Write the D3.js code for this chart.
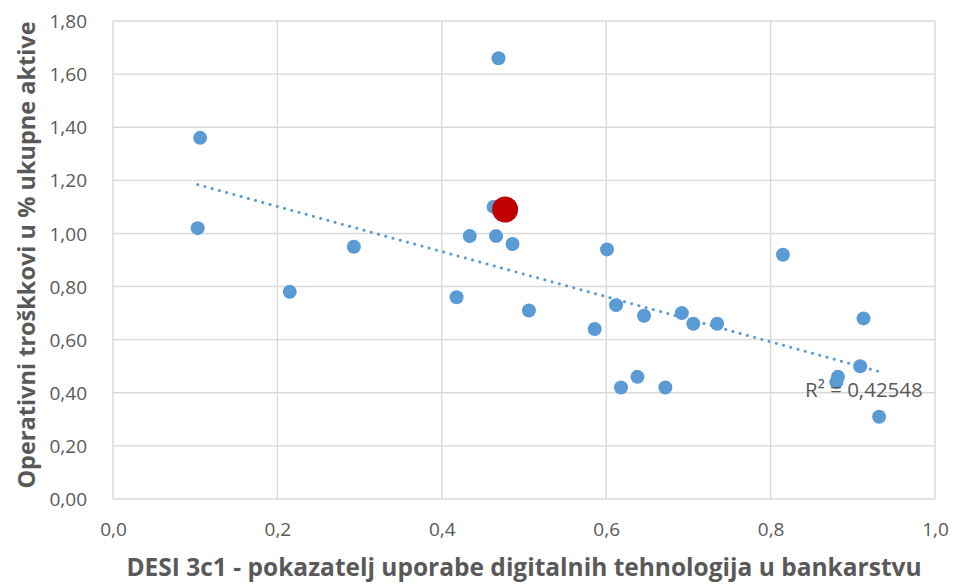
<!DOCTYPE html>
<html>
<head>
<meta charset="utf-8">
<script src="https://cdn.jsdelivr.net/npm/d3@7"></script>
<style>
  body { margin: 0; background: #fff; }
  svg text { font-family: "Open Sans", "Noto Sans", sans-serif; fill: #595959; }
</style>
</head>
<body>
<div id="chart"></div>
<script>
// DESI 3c1 (x) vs operating costs in % of total assets (y)
const desi = [0.469, 0.106, 0.103, 0.293, 0.434, 0.466, 0.486, 0.463, 0.215, 0.418,
              0.506, 0.601, 0.586, 0.612, 0.646, 0.692, 0.706, 0.735, 0.815, 0.913,
              0.909, 0.882, 0.880, 0.932, 0.618, 0.638, 0.672]
const costs = [1.66, 1.36, 1.02, 0.95, 0.99, 0.99, 0.96, 1.10, 0.78, 0.76,
               0.71, 0.94, 0.64, 0.73, 0.69, 0.70, 0.66, 0.66, 0.92, 0.68,
               0.50, 0.46, 0.44, 0.31, 0.42, 0.46, 0.42]
// highlighted country
const hrDesi = [0.477]
const hrCosts = [1.09]

const xTicks = [0, 0.2, 0.4, 0.6, 0.8, 1.0]
const yTicks = [0, 0.2, 0.4, 0.6, 0.8, 1.0, 1.2, 1.4, 1.6, 1.8]
const r2Label = 'R² = 0,42548'

const width = 953, height = 584
const margin = {top: 21, right: 18, bottom: 85, left: 113}

const svg = d3.select('#chart').append('svg')
    .attr('width', width).attr('height', height)

const x = d3.scaleLinear().domain([0, 1]).range([margin.left, width - margin.right])
const y = d3.scaleLinear().domain([0, 1.8]).range([height - margin.bottom, margin.top])

const comma = d => d.toFixed(2).replace('.', ',')
const comma1 = d => d.toFixed(1).replace('.', ',')

// grid
svg.append('g').selectAll('line.h').data(yTicks).enter().append('line')
    .attr('x1', x(0)).attr('x2', x(1))
    .attr('y1', d => y(d)).attr('y2', d => y(d))
    .attr('stroke', '#d9d9d9').attr('stroke-width', 1.4)
svg.append('g').selectAll('line.v').data(xTicks).enter().append('line')
    .attr('y1', y(0)).attr('y2', y(1.8))
    .attr('x1', d => x(d)).attr('x2', d => x(d))
    .attr('stroke', '#d9d9d9').attr('stroke-width', 1.4)

// axes (labels only)
const yAxis = svg.append('g')
    .attr('transform', 'translate(' + (x(0) - 23) + ',0)')
    .call(d3.axisLeft(y).tickValues(yTicks).tickFormat(comma).tickSize(0))
yAxis.select('.domain').remove()
yAxis.selectAll('text').style('font-size', '19px').attr('fill', '#595959').attr('dy', '0.35em')

const xAxis = svg.append('g')
    .attr('transform', 'translate(0,' + (y(0) + 20) + ')')
    .call(d3.axisBottom(x).tickValues(xTicks).tickFormat(comma1).tickSize(0))
xAxis.select('.domain').remove()
xAxis.selectAll('text').style('font-size', '19px').attr('fill', '#595959')

// axis titles
svg.append('text')
    .attr('x', (x(0) + x(1)) / 2).attr('y', 576)
    .attr('text-anchor', 'middle')
    .style('font-size', '24.5px').style('font-weight', 'bold')
    .text('DESI 3c1 - pokazatelj uporabe digitalnih tehnologija u bankarstvu')
svg.append('text')
    .attr('transform', 'translate(35,255) rotate(-90)')
    .attr('text-anchor', 'middle')
    .style('font-size', '23.5px').style('font-weight', 'bold')
    .text('Operativni troškkovi u % ukupne aktive')

// linear trend of the blue series
const mx = d3.mean(desi), my = d3.mean(costs)
const slope = d3.sum(desi, (d, i) => (d - mx) * (costs[i] - my)) / d3.sum(desi, d => (d - mx) ** 2)
const icpt = my - slope * mx
const [x0, x1] = d3.extent(desi)
svg.append('line')
    .attr('x1', x(x0)).attr('y1', y(icpt + slope * x0))
    .attr('x2', x(x1)).attr('y2', y(icpt + slope * x1))
    .attr('stroke', '#5b9bd5').attr('stroke-width', 3)
    .attr('stroke-dasharray', '0.1,7.4').attr('stroke-linecap', 'round')

// points
svg.append('g').selectAll('circle').data(desi).enter().append('circle')
    .attr('cx', d => x(d)).attr('cy', (d, i) => y(costs[i]))
    .attr('r', 7).attr('fill', '#5b9bd5')
svg.append('g').selectAll('circle').data(hrDesi).enter().append('circle')
    .attr('cx', d => x(d)).attr('cy', (d, i) => y(hrCosts[i]))
    .attr('r', 13).attr('fill', '#c00000')

svg.append('text')
    .attr('x', 805).attr('y', 397)
    .style('font-size', '20.5px')
    .text(r2Label)
</script>
</body>
</html>
